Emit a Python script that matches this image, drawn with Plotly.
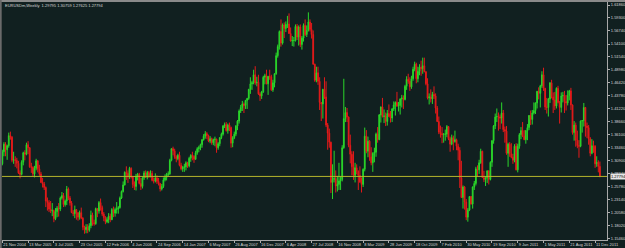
import plotly.graph_objects as go

# Weekly EURUSD bars, 21 Nov 2004 .. 1 Jan 2012 (values read/estimated from the chart)
opens = [
 1.303,1.327,1.342,1.331,1.339,1.359,
 1.356,1.310,1.311,1.310,1.304,1.285,1.282,1.306,1.325,1.322,1.341,1.335,1.297,1.296,1.283,1.294,1.309,1.293,1.283,1.266,1.263,1.256,1.229,1.226,1.213,1.209,1.210,1.194,1.208,1.215,1.213,1.235,1.240,1.222,1.229,1.253,1.235,1.225,1.206,1.204,1.212,1.206,1.197,1.206,1.195,1.177,1.172,1.177,1.171,1.180,1.201,1.186,
 1.184,1.214,1.209,1.226,1.216,1.203,1.196,1.188,1.192,1.199,1.192,1.212,1.205,1.212,1.213,1.216,1.235,1.248,1.261,1.286,1.284,1.277,1.294,1.277,1.262,1.258,1.278,1.282,1.264,1.258,1.275,1.285,1.276,1.286,1.278,1.284,1.270,1.269,1.275,1.268,1.264,1.253,1.258,1.271,1.276,1.282,1.283,1.310,1.333,1.329,1.317,1.313,1.320,
 1.300,1.293,1.296,1.297,1.305,1.299,1.314,1.320,1.318,1.312,1.325,1.333,1.335,1.341,1.351,1.358,1.363,1.359,1.348,1.353,1.345,1.351,1.352,1.335,1.343,1.355,1.362,1.378,1.381,1.369,1.380,1.375,1.344,1.355,1.362,1.378,1.388,1.408,1.415,1.422,1.419,1.429,1.433,1.451,1.462,1.464,1.480,1.464,1.465,1.442,1.438,1.446,
 1.475,1.478,1.462,1.477,1.476,1.450,1.464,1.482,1.518,1.536,1.566,1.543,1.579,1.572,1.580,1.581,1.562,1.547,1.548,1.548,1.576,1.555,1.575,1.540,1.553,1.578,1.560,1.568,1.585,1.570,1.560,1.501,1.469,1.484,1.467,1.425,1.422,1.451,1.436,1.380,1.364,1.346,1.266,1.272,1.274,1.259,1.262,1.269,1.272,1.335,1.393,1.405,
 1.396,1.340,1.322,1.297,1.280,1.295,1.288,1.280,1.267,1.262,1.292,1.358,1.328,1.348,1.317,1.305,1.324,1.326,1.362,1.351,1.400,1.416,1.397,1.398,1.387,1.403,1.397,1.394,1.412,1.420,1.425,1.418,1.419,1.432,1.434,1.431,1.457,1.471,1.467,1.456,1.472,1.491,1.501,1.472,1.487,1.495,1.492,1.498,1.486,1.462,1.434,1.436,
 1.432,1.441,1.438,1.414,1.387,1.366,1.363,1.361,1.362,1.362,1.377,1.353,1.342,1.355,1.347,1.351,1.338,1.330,1.275,1.236,1.257,1.227,1.197,1.211,1.238,1.223,1.257,1.264,1.293,1.291,1.305,1.328,1.276,1.272,1.275,1.289,1.272,1.306,1.349,1.378,1.396,1.397,1.396,1.394,1.404,1.371,1.368,1.324,1.342,1.323,1.316,1.310,
 1.338,1.291,1.338,1.361,1.369,1.358,1.351,1.369,1.375,1.399,1.391,1.404,1.409,1.424,1.447,1.443,1.458,1.480,1.453,1.416,1.415,1.432,1.464,1.436,1.430,1.418,1.453,1.425,1.415,1.438,1.439,1.427,1.424,1.439,1.448,1.420,1.365,1.380,1.350,1.339,1.338,1.388,1.389,1.415,1.378,1.375,1.353,1.324,1.339,1.338,1.303,1.306,
 1.29795,
]
highs = [
 1.331,1.346,1.346,1.341,1.365,1.367,
 1.358,1.327,1.318,1.315,1.309,1.290,1.310,1.327,1.330,1.345,1.348,1.336,1.305,1.298,1.299,1.313,1.310,1.301,1.287,1.275,1.267,1.258,1.236,1.231,1.229,1.225,1.212,1.215,1.219,1.225,1.238,1.247,1.245,1.232,1.259,1.256,1.239,1.229,1.211,1.220,1.213,1.207,1.210,1.216,1.197,1.180,1.183,1.183,1.185,1.210,1.206,1.192,
 1.216,1.214,1.229,1.234,1.220,1.207,1.199,1.197,1.205,1.204,1.215,1.218,1.216,1.227,1.219,1.238,1.250,1.268,1.288,1.298,1.290,1.297,1.296,1.279,1.268,1.283,1.285,1.285,1.275,1.278,1.289,1.290,1.289,1.289,1.290,1.289,1.276,1.284,1.280,1.275,1.265,1.263,1.276,1.282,1.285,1.288,1.313,1.334,1.337,1.333,1.320,1.323,1.327,
 1.305,1.299,1.303,1.308,1.307,1.317,1.322,1.327,1.320,1.329,1.336,1.339,1.343,1.352,1.362,1.368,1.366,1.361,1.358,1.355,1.353,1.357,1.353,1.346,1.356,1.365,1.380,1.385,1.386,1.383,1.385,1.377,1.358,1.367,1.380,1.390,1.411,1.420,1.428,1.425,1.430,1.434,1.452,1.475,1.468,1.490,1.497,1.476,1.480,1.445,1.448,1.478,
 1.482,1.490,1.477,1.490,1.480,1.470,1.483,1.524,1.540,1.568,1.590,1.582,1.584,1.586,1.597,1.602,1.574,1.557,1.555,1.580,1.581,1.578,1.580,1.557,1.582,1.590,1.578,1.604,1.590,1.583,1.568,1.502,1.496,1.496,1.475,1.425,1.452,1.475,1.467,1.384,1.373,1.347,1.302,1.329,1.290,1.279,1.305,1.278,1.340,1.472,1.416,1.414,
 1.397,1.361,1.328,1.328,1.305,1.302,1.290,1.298,1.276,1.294,1.375,1.370,1.357,1.350,1.336,1.326,1.335,1.365,1.376,1.402,1.417,1.434,1.411,1.405,1.410,1.421,1.408,1.414,1.427,1.427,1.446,1.426,1.433,1.440,1.439,1.460,1.477,1.482,1.475,1.478,1.496,1.506,1.504,1.496,1.501,1.508,1.514,1.514,1.487,1.473,1.443,1.451,
 1.446,1.457,1.443,1.418,1.397,1.379,1.376,1.364,1.371,1.380,1.378,1.357,1.361,1.359,1.369,1.353,1.343,1.336,1.309,1.260,1.259,1.233,1.215,1.238,1.239,1.258,1.269,1.297,1.300,1.311,1.333,1.329,1.289,1.277,1.290,1.290,1.308,1.350,1.380,1.403,1.413,1.405,1.401,1.425,1.410,1.377,1.378,1.345,1.346,1.344,1.323,1.342,
 1.344,1.343,1.364,1.376,1.386,1.370,1.370,1.382,1.400,1.409,1.410,1.425,1.425,1.448,1.455,1.460,1.487,1.494,1.454,1.434,1.434,1.465,1.470,1.445,1.446,1.455,1.458,1.428,1.445,1.446,1.448,1.440,1.449,1.450,1.454,1.421,1.388,1.385,1.369,1.350,1.389,1.390,1.424,1.416,1.385,1.380,1.356,1.352,1.349,1.340,1.318,1.310,
 1.30759,
]
lows = [
 1.300,1.318,1.318,1.311,1.335,1.351,
 1.306,1.303,1.297,1.294,1.283,1.274,1.280,1.300,1.310,1.320,1.322,1.295,1.285,1.277,1.276,1.290,1.286,1.279,1.265,1.256,1.251,1.217,1.210,1.207,1.205,1.199,1.187,1.191,1.197,1.198,1.209,1.232,1.217,1.218,1.221,1.231,1.220,1.205,1.199,1.195,1.192,1.190,1.192,1.193,1.171,1.164,1.165,1.165,1.168,1.175,1.180,1.180,
 1.182,1.197,1.204,1.210,1.199,1.189,1.183,1.185,1.185,1.187,1.191,1.197,1.198,1.204,1.204,1.214,1.233,1.246,1.260,1.271,1.265,1.273,1.274,1.255,1.251,1.250,1.270,1.262,1.251,1.254,1.271,1.275,1.272,1.275,1.276,1.268,1.264,1.266,1.263,1.260,1.248,1.250,1.255,1.268,1.270,1.278,1.281,1.308,1.320,1.313,1.306,1.310,1.298,
 1.290,1.287,1.287,1.290,1.295,1.296,1.307,1.310,1.305,1.311,1.321,1.326,1.330,1.335,1.349,1.353,1.352,1.346,1.344,1.341,1.340,1.338,1.325,1.331,1.338,1.352,1.359,1.374,1.367,1.363,1.368,1.335,1.336,1.352,1.358,1.370,1.383,1.404,1.408,1.404,1.412,1.412,1.430,1.442,1.450,1.461,1.460,1.457,1.440,1.428,1.432,1.444,
 1.461,1.461,1.440,1.470,1.448,1.446,1.455,1.480,1.514,1.530,1.536,1.540,1.553,1.565,1.573,1.561,1.546,1.537,1.536,1.546,1.549,1.538,1.535,1.530,1.546,1.557,1.555,1.566,1.566,1.552,1.500,1.466,1.465,1.460,1.410,1.388,1.393,1.432,1.376,1.331,1.335,1.245,1.233,1.266,1.246,1.248,1.251,1.251,1.268,1.333,1.386,1.386,
 1.336,1.304,1.280,1.271,1.266,1.282,1.251,1.265,1.246,1.257,1.288,1.324,1.316,1.309,1.300,1.287,1.306,1.317,1.345,1.350,1.385,1.395,1.384,1.378,1.379,1.396,1.385,1.386,1.408,1.399,1.416,1.407,1.401,1.415,1.412,1.429,1.450,1.462,1.448,1.452,1.468,1.487,1.463,1.465,1.479,1.478,1.482,1.485,1.459,1.431,1.421,1.425,
 1.422,1.432,1.403,1.386,1.362,1.355,1.344,1.345,1.349,1.356,1.350,1.327,1.340,1.330,1.345,1.330,1.310,1.255,1.235,1.214,1.212,1.191,1.188,1.209,1.222,1.214,1.251,1.260,1.277,1.283,1.303,1.275,1.267,1.259,1.265,1.262,1.270,1.297,1.343,1.372,1.386,1.369,1.372,1.383,1.366,1.345,1.321,1.297,1.317,1.314,1.303,1.306,
 1.290,1.286,1.333,1.352,1.356,1.350,1.343,1.350,1.370,1.380,1.381,1.401,1.402,1.413,1.431,1.415,1.454,1.448,1.410,1.403,1.397,1.424,1.433,1.404,1.410,1.413,1.423,1.383,1.405,1.425,1.404,1.409,1.419,1.429,1.410,1.361,1.349,1.337,1.334,1.315,1.336,1.365,1.377,1.357,1.354,1.341,1.318,1.322,1.325,1.295,1.297,1.286,
 1.27625,
]
closes = [
 1.327,1.342,1.331,1.339,1.359,1.356,
 1.310,1.311,1.310,1.304,1.285,1.282,1.306,1.325,1.322,1.341,1.335,1.297,1.296,1.283,1.294,1.309,1.293,1.283,1.266,1.263,1.256,1.229,1.226,1.213,1.209,1.210,1.194,1.208,1.215,1.213,1.235,1.240,1.222,1.229,1.253,1.235,1.225,1.206,1.204,1.212,1.206,1.197,1.206,1.195,1.177,1.172,1.177,1.171,1.180,1.201,1.186,1.184,
 1.214,1.209,1.226,1.216,1.203,1.196,1.188,1.192,1.199,1.192,1.212,1.205,1.212,1.213,1.216,1.235,1.248,1.261,1.286,1.284,1.277,1.294,1.277,1.262,1.258,1.278,1.282,1.264,1.258,1.275,1.285,1.276,1.286,1.278,1.284,1.270,1.269,1.275,1.268,1.264,1.253,1.258,1.271,1.276,1.282,1.283,1.310,1.333,1.329,1.317,1.313,1.320,1.300,
 1.293,1.296,1.297,1.305,1.299,1.314,1.320,1.318,1.312,1.325,1.333,1.335,1.341,1.351,1.358,1.363,1.359,1.348,1.353,1.345,1.351,1.352,1.335,1.343,1.355,1.362,1.378,1.381,1.369,1.380,1.375,1.344,1.355,1.362,1.378,1.388,1.408,1.415,1.422,1.419,1.429,1.433,1.451,1.462,1.464,1.480,1.464,1.465,1.442,1.438,1.446,1.475,
 1.478,1.462,1.477,1.476,1.450,1.464,1.482,1.518,1.536,1.566,1.543,1.579,1.572,1.580,1.581,1.562,1.547,1.548,1.548,1.576,1.555,1.575,1.540,1.553,1.578,1.560,1.568,1.585,1.570,1.560,1.501,1.469,1.484,1.467,1.425,1.422,1.451,1.436,1.380,1.364,1.346,1.266,1.272,1.274,1.259,1.262,1.269,1.272,1.335,1.393,1.405,1.396,
 1.340,1.322,1.297,1.280,1.295,1.288,1.280,1.267,1.262,1.292,1.358,1.328,1.348,1.317,1.305,1.324,1.326,1.362,1.351,1.400,1.416,1.397,1.398,1.387,1.403,1.397,1.394,1.412,1.420,1.425,1.418,1.419,1.432,1.434,1.431,1.457,1.471,1.467,1.456,1.472,1.491,1.501,1.472,1.487,1.495,1.492,1.498,1.486,1.462,1.434,1.436,1.432,
 1.441,1.438,1.414,1.387,1.366,1.363,1.361,1.362,1.362,1.377,1.353,1.342,1.355,1.347,1.351,1.338,1.330,1.275,1.236,1.257,1.227,1.197,1.211,1.238,1.223,1.257,1.264,1.293,1.291,1.305,1.328,1.276,1.272,1.275,1.289,1.272,1.306,1.349,1.378,1.396,1.397,1.396,1.394,1.404,1.371,1.368,1.324,1.342,1.323,1.316,1.310,1.338,
 1.291,1.338,1.361,1.369,1.358,1.351,1.369,1.375,1.399,1.391,1.404,1.409,1.424,1.447,1.443,1.458,1.480,1.453,1.416,1.415,1.432,1.464,1.436,1.430,1.418,1.453,1.425,1.415,1.438,1.439,1.427,1.424,1.439,1.448,1.420,1.365,1.380,1.350,1.339,1.338,1.388,1.389,1.415,1.378,1.375,1.353,1.324,1.339,1.338,1.303,1.306,1.298,
 1.27794,
]

date_ticks = [0, 16, 32, 48, 64, 80, 96, 112, 128, 144, 160, 176, 192, 208, 224, 240,
              256, 272, 288, 304, 320, 336, 352, 368]
date_labels = ["21 Nov 2004", "13 Mar 2005", "3 Jul 2005", "23 Oct 2005", "12 Feb 2006",
               "4 Jun 2006", "24 Sep 2006", "14 Jan 2007", "6 May 2007", "26 Aug 2007",
               "16 Dec 2007", "6 Apr 2008", "27 Jul 2008", "16 Nov 2008", "8 Mar 2009",
               "28 Jun 2009", "18 Oct 2009", "7 Feb 2010", "30 May 2010", "19 Sep 2010",
               "9 Jan 2011", "1 May 2011", "21 Aug 2011", "11 Dec 2011"]
price_ticks = [1.61860, 1.59300, 1.56740, 1.54100, 1.51540, 1.48980, 1.46420, 1.43780,
               1.41220, 1.38660, 1.36100, 1.33460, 1.30900, 1.28340, 1.25780, 1.23140,
               1.20580, 1.18020, 1.15460]
title_text = "EURUSDm,Weekly  1.29795 1.30759 1.27625 1.27794"
last_price = 1.27794

BG = "#112020"
FG = "#d8d8d8"
FONT = "Liberation Sans"

n = len(closes)
assert len(opens) == n and len(highs) == n and len(lows) == n

fig = go.Figure(go.Candlestick(
    x=list(range(n)), open=opens, high=highs, low=lows, close=closes,
    increasing=dict(line=dict(color="#2ad62a", width=1), fillcolor="#2ad62a"),
    decreasing=dict(line=dict(color="#e41a1a", width=1), fillcolor="#e41a1a"),
    whiskerwidth=0, hoverinfo="skip"))

fig.update_layout(
    width=625, height=248,
    margin=dict(l=2, r=18, t=2, b=8, autoexpand=False),
    paper_bgcolor=BG, plot_bgcolor=BG,
    showlegend=False,
    font=dict(family=FONT, size=4, color=FG),
    xaxis=dict(range=[-0.2, 375.4], tickmode="array", tickvals=date_ticks, ticktext=date_labels,
               tickangle=0, automargin=False,
               ticks="outside", ticklen=2, tickcolor="#b0b0b0", tickwidth=1,
               ticklabelposition="outside right", tickfont=dict(size=4, color=FG),
               showgrid=False, zeroline=False, showline=True, linecolor="#a8a8a8", linewidth=1,
               rangeslider=dict(visible=False), fixedrange=True),
    yaxis=dict(range=[1.1516, 1.6246], side="right", tickmode="array", tickvals=price_ticks,
               ticktext=[f"{v:.5f}" for v in price_ticks], automargin=False,
               ticks="outside", ticklen=2, tickcolor="#b0b0b0", tickwidth=1,
               tickfont=dict(size=4, color=FG),
               showgrid=False, zeroline=False, showline=True, linecolor="#a8a8a8", linewidth=1,
               fixedrange=True),
)

# bid line
fig.add_shape(type="line", xref="paper", yref="y", x0=0, x1=1, y0=last_price, y1=last_price,
              line=dict(color="#b4b42c", width=1))
# window borders (top and left gray strips)
fig.add_shape(type="rect", xref="paper", yref="paper", x0=-0.01, x1=1.05, y0=1.0, y1=1.02,
              line=dict(width=0), fillcolor="#8a8a8a", layer="above")
fig.add_shape(type="rect", xref="paper", yref="paper", x0=-0.004, x1=-0.0005, y0=-0.05, y1=1.02,
              line=dict(width=0), fillcolor="#6a6a6a", layer="above")

fig.add_annotation(text=title_text, xref="paper", yref="paper", x=0.002, y=1 - 3.5 / 238,
                   xanchor="left", yanchor="middle", showarrow=False,
                   font=dict(family=FONT, size=4, color=FG))
fig.add_annotation(text=f"{last_price:.5f}", xref="paper", yref="y", x=1 + 2.5 / 605, y=last_price,
                   xanchor="left", yanchor="middle", showarrow=False, bgcolor="#e6e6e6",
                   borderpad=0, font=dict(family=FONT, size=4, color="#000000"))

fig.write_html("out.html")
